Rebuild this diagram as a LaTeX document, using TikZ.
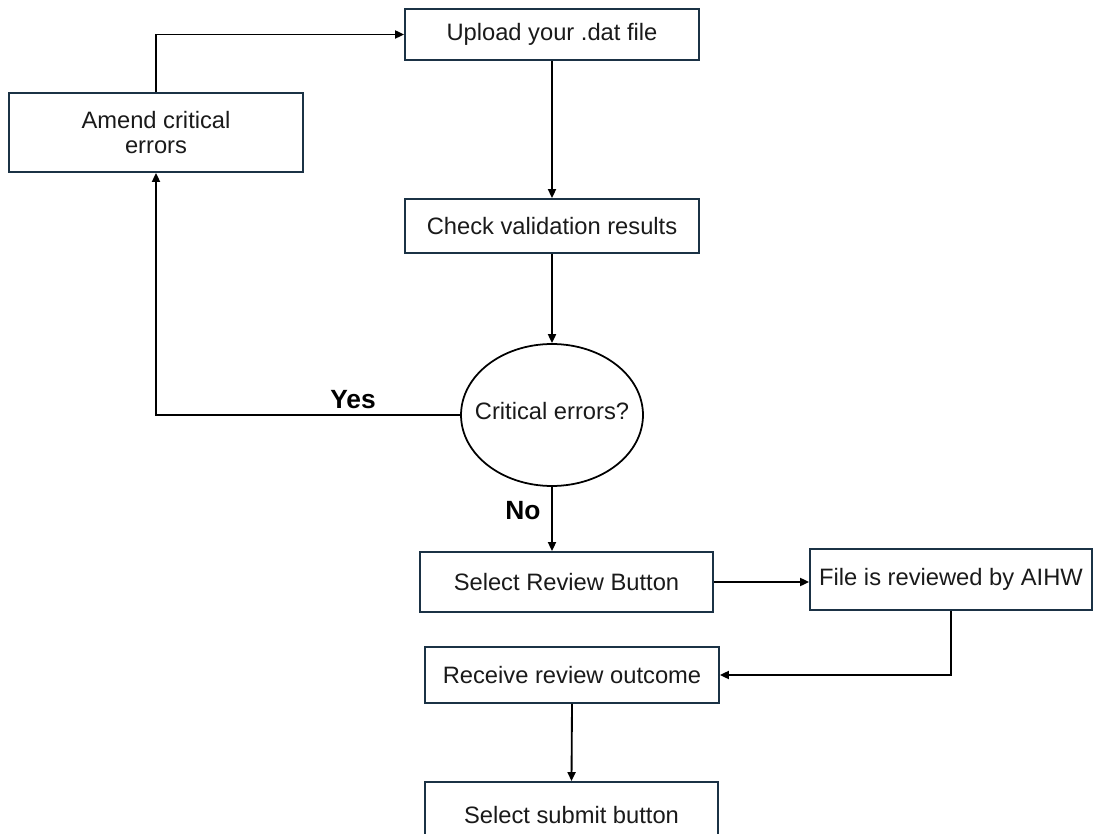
\documentclass[tikz,border=0pt]{standalone}
\usepackage{fontspec}
\setmainfont{Liberation Sans}
\usetikzlibrary{positioning, arrows.meta, shapes.geometric}

\definecolor{boxline}{HTML}{1B3245}
\definecolor{txt}{HTML}{1A1A1A}

\begin{document}
\begin{tikzpicture}[x=0.02cm, y=-0.02cm,
		box/.style={draw=boxline, line width=1.05pt, fill=white, text=txt, inner sep=2pt, align=center, font=\fontsize{13.5}{14.5}\selectfont},
		decision/.style={ellipse, draw=black, line width=1pt, fill=white, text=txt, inner sep=0pt, font=\fontsize{13.5}{14.5}\selectfont},
		arr/.style={-{Triangle[length=1.8mm, width=1.6mm]}, line width=1.05pt},
		answer/.style={font=\fontsize{15}{17}\selectfont\bfseries}]
		
		% Marco de la figura
		\useasboundingbox (0,0) rectangle (1095,834);
		\clip (0,0) rectangle (1095,834);
		
		% --- 1. CAJAS DEL PROCESO ---
		\node[box, minimum width=5.88cm, minimum height=1.02cm] (upload) at (552,34.5) {Upload your .dat file};
		\node[box, minimum width=5.88cm, minimum height=1.58cm] (amend) at (156,132.5) {Amend critical\\errors};
		\node[box, minimum width=5.88cm, minimum height=1.08cm] (check) at (552,226) {Check validation results};
		
		% Decisión
		\node[decision, minimum width=3.64cm, minimum height=2.84cm] (crit) at (552,415) {\raisebox{0.16cm}{\makebox[0pt]{Critical errors?}}};
		
		\node[box, minimum width=5.86cm, minimum height=1.2cm] (review) at (566.5,582) {Select Review Button};
		\node[box, minimum width=5.64cm, minimum height=1.22cm] (aihw) at (951,579.5) {File is reviewed by AIHW};
		\node[box, minimum width=5.88cm, minimum height=1.12cm] (outcome) at (572,675) {Receive review outcome};
		\node[box, minimum width=5.86cm, minimum height=1.32cm] (submit) at (571.5,815) {Select submit button};
		
		% --- 2. CONECTORES ---
		\draw[arr] (upload.south) -- (check.north);
		\draw[arr] (check.south) -- (crit.north);
		\draw[arr] (crit.west) -| (amend.south);
		\draw[arr] (amend.north) |- (upload.west);
		\draw[arr] (crit.south) -- (crit.south |- review.north);
		\draw[arr] (review.east) -- (review.east -| aihw.west);
		\draw[arr] (aihw.south) |- (outcome.east);
		\draw[arr] (outcome.south) -- (submit.north);
		
		% Respuestas
		\node[answer] (yes) at (353,400) {Yes};
		\node[answer] (no) at (523,511) {No};
		
	\end{tikzpicture}
\end{document}
